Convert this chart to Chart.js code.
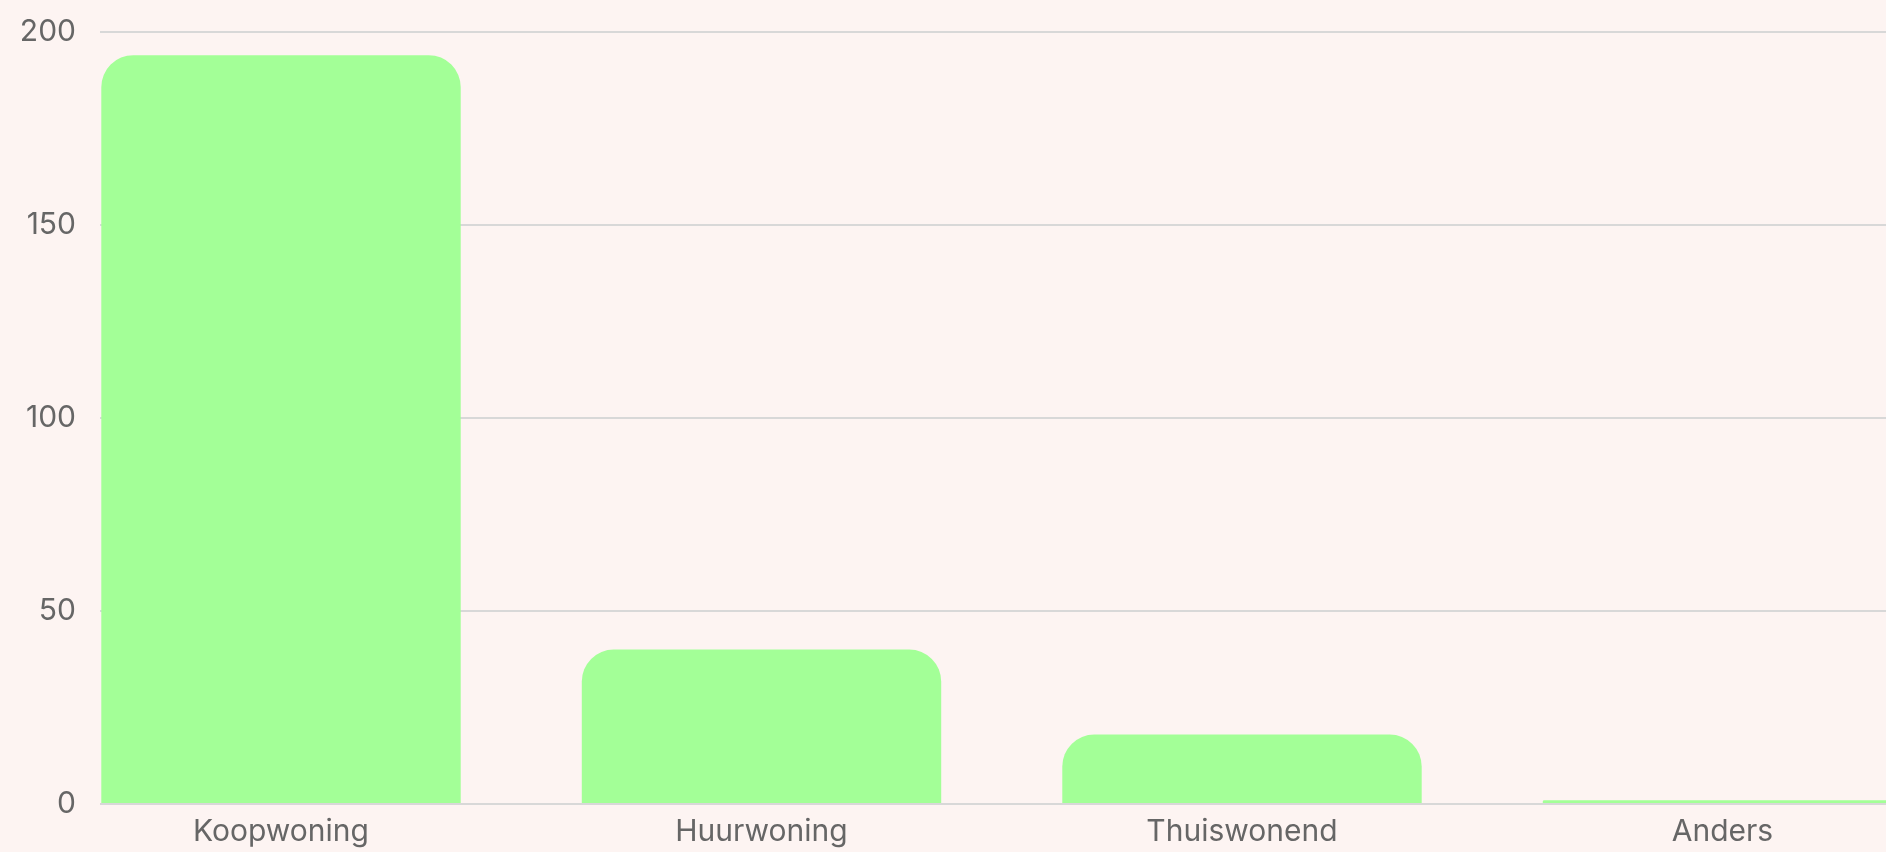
<!DOCTYPE html>
<html>
<head>
<meta charset="utf-8">
<script src="https://cdn.jsdelivr.net/npm/chart.js"></script>
<style>
  html, body { margin: 0; padding: 0; background: #fdf4f2; }
  #wrap { width: 1886px; height: 852px; }
</style>
</head>
<body>
<div id="wrap"><canvas id="woonChart"></canvas></div>
<script>
// Woonsituatie
const categories = ["Koopwoning", "Huurwoning", "Thuiswonend", "Anders"];
const counts = [194, 40, 18, 1];
const yTicks = [0, 50, 100, 150, 200];

const ctx = document.getElementById("woonChart");

new Chart(ctx.getContext("2d"), {
  type: "bar",
  data: {
    datasets: [
      {
        label: "Aantal",
        data: categories.map((c, i) => ({ x: i, y: counts[i] })),
        backgroundColor: "#a3ff97",
        borderRadius: 32,
        categoryPercentage: 1,
        barPercentage: 0.748,
      },
    ],
  },
  options: {
    responsive: true,
    maintainAspectRatio: false,
    animation: false,
    layout: { padding: { top: 32, right: 0, bottom: 0, left: 0 } },
    plugins: { legend: { display: false }, tooltip: { enabled: false } },
    scales: {
      x: {
        type: "linear",
        offset: false,
        min: -0.3767,
        max: 3.3403,
        grid: { display: false },
        border: { display: false },
        afterBuildTicks: (axis) => {
          axis.ticks = categories.map((c, i) => ({ value: i }));
        },
        ticks: {
          autoSkip: false,
          maxRotation: 0,
          padding: 2,
          color: "#666666",
          font: { family: "Inter", size: 30 },
          callback: (v) => categories[v] ?? "",
        },
      },
      y: {
        min: 0,
        max: 200,
        afterBuildTicks: (axis) => {
          axis.ticks = yTicks.map((v) => ({ value: v }));
        },
        afterFit: (axis) => {
          axis.width = 100;
          axis.paddingTop = 0;
          axis.paddingBottom = 0;
        },
        grid: { color: "#d8d8d8", lineWidth: 2, drawTicks: false },
        border: { display: false },
        ticks: {
          padding: 24,
          color: "#666666",
          font: { family: "Inter", size: 30 },
        },
      },
    },
  },
});
</script>
</body>
</html>
